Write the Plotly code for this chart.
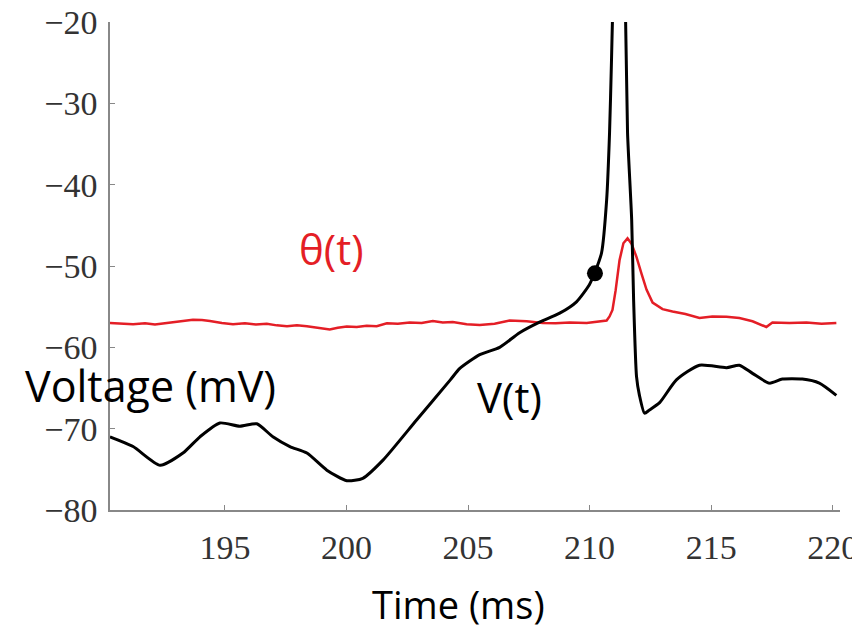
import plotly.graph_objects as go

# Membrane voltage V(t) (ms, mV)
v_time = [190.27, 191.22, 192.33, 193.27, 193.97, 194.79, 195.61, 196.31, 196.97, 197.67,
          198.37, 199.19, 200.01, 200.67, 201.49, 202.89, 204.27, 204.66, 205.48, 206.30,
          207.12, 207.94, 208.77, 209.46, 209.99, 210.20, 210.49, 210.70, 210.82, 210.90,
          210.94, 211.20, 211.48, 211.56, 211.73, 211.81, 211.93, 212.05, 212.26, 212.46,
          212.88, 213.57, 214.52, 215.63, 216.16, 216.70, 217.40, 217.93, 218.75, 219.45,
          220.15]
v_mv = [-71.0, -72.2, -74.5, -73.0, -71.0, -69.3, -69.7, -69.4, -71.0, -72.2,
        -73.0, -75.1, -76.4, -76.1, -73.9, -68.9, -64.0, -62.6, -60.9, -60.0,
        -58.2, -56.9, -55.8, -54.4, -52.3, -50.9, -48.4, -41.9, -33.6, -24.7,
        -19.7, 5.0, -19.7, -33.6, -44.3, -54.2, -63.6, -65.9, -68.1, -67.7,
        -66.8, -64.0, -62.2, -62.5, -62.2, -63.2, -64.4, -63.9, -63.9, -64.4,
        -65.9]

# Threshold theta(t)
th_time = [190.27, 190.76, 191.22, 191.71, 192.12, 192.61, 193.15, 193.68, 194.05, 194.38,
           194.87, 195.33, 195.82, 196.27, 196.72, 197.13, 197.55, 197.96, 198.37, 198.82,
           199.31, 199.64, 200.01, 200.42, 200.83, 201.24, 201.66, 202.11, 202.60, 203.09,
           203.55, 203.96, 204.37, 204.94, 205.48, 206.09, 206.71, 207.41, 208.07, 208.60,
           209.18, 209.88, 210.41, 210.70, 210.82, 210.94, 211.07, 211.23, 211.39, 211.56,
           211.73, 211.93, 212.14, 212.34, 212.59, 213.00, 213.41, 213.94, 214.52, 215.05,
           215.63, 216.16, 216.70, 216.99, 217.27, 217.52, 218.22, 218.92, 219.54, 220.15]
th_mv = [-57.0, -57.1, -57.15, -57.05, -57.2, -57.0, -56.8, -56.6, -56.65, -56.75,
         -57.0, -57.15, -57.05, -57.2, -57.1, -57.3, -57.4, -57.3, -57.4, -57.55,
         -57.8, -57.6, -57.45, -57.5, -57.35, -57.4, -57.05, -57.1, -56.95, -57.0,
         -56.75, -56.95, -56.9, -57.15, -57.25, -57.1, -56.7, -56.8, -57.0, -57.05,
         -56.95, -57.0, -56.8, -56.7, -56.2, -55.4, -53.0, -49.3, -47.2, -46.6,
         -47.3, -48.9, -51.0, -52.9, -54.5, -55.3, -55.6, -55.9, -56.4, -56.2,
         -56.25, -56.4, -56.8, -57.2, -57.5, -56.95, -57.0, -56.95, -57.1, -57.0]

# Threshold crossing point
dot_time = [210.22]
dot_mv = [-50.9]

x_ticks = [195, 200, 205, 210, 215, 220]
y_ticks = [-80, -70, -60, -50, -40, -30, -20]

fig = go.Figure()
fig.add_trace(go.Scatter(x=th_time, y=th_mv, mode="lines",
                         line=dict(color="#e41e26", width=2.5), showlegend=False))
fig.add_trace(go.Scatter(x=v_time, y=v_mv, mode="lines",
                         line=dict(color="black", width=3, shape="spline", smoothing=0.6),
                         showlegend=False))
fig.add_trace(go.Scatter(x=dot_time, y=dot_mv, mode="markers",
                         marker=dict(color="black", size=16), showlegend=False))

tick_font = dict(family="Liberation Serif, Times New Roman, serif", size=34, color="#333333")
sans = "Open Sans, Noto Sans, sans-serif"

# page body has an 8px default margin, so the figure is sized to fit the window
fig.update_layout(
    width=852, height=628,
    margin=dict(l=102, r=20, t=14, b=126, autoexpand=False),
    paper_bgcolor="white", plot_bgcolor="white",
    xaxis=dict(range=[190.27, 220.3], tickvals=x_ticks, ticks="inside", ticklen=5,
               tickcolor="#888888", showline=True, linecolor="#888888", linewidth=1.5,
               showgrid=False, zeroline=False, tickfont=tick_font, ticklabelstandoff=6,
               automargin=False, ticklabeloverflow="allow"),
    yaxis=dict(range=[-80, -20], tickvals=y_ticks, ticks="inside", ticklen=5,
               tickcolor="#888888", showline=True, linecolor="#888888", linewidth=1.5,
               showgrid=False, zeroline=False, tickfont=tick_font, ticklabelstandoff=4,
               automargin=False, ticklabeloverflow="allow"),
    annotations=[
        dict(text="Voltage (mV)", xref="paper", yref="paper", x=0.0548, y=0.256,
             xanchor="center", yanchor="middle", showarrow=False,
             font=dict(family=sans, size=43, color="black")),
        dict(text="Time (ms)", xref="paper", yref="paper", x=0.478, y=-0.1926,
             xanchor="center", yanchor="middle", showarrow=False,
             font=dict(family=sans, size=38, color="black")),
        dict(text="θ(t)", xref="paper", yref="paper", x=0.303, y=0.535,
             xanchor="center", yanchor="middle", showarrow=False,
             font=dict(family=sans, size=42, color="#e41e26")),
        dict(text="V(t)", xref="paper", yref="paper", x=0.5466, y=0.2336,
             xanchor="center", yanchor="middle", showarrow=False,
             font=dict(family=sans, size=42, color="black")),
    ],
)

fig.write_html("out.html")
